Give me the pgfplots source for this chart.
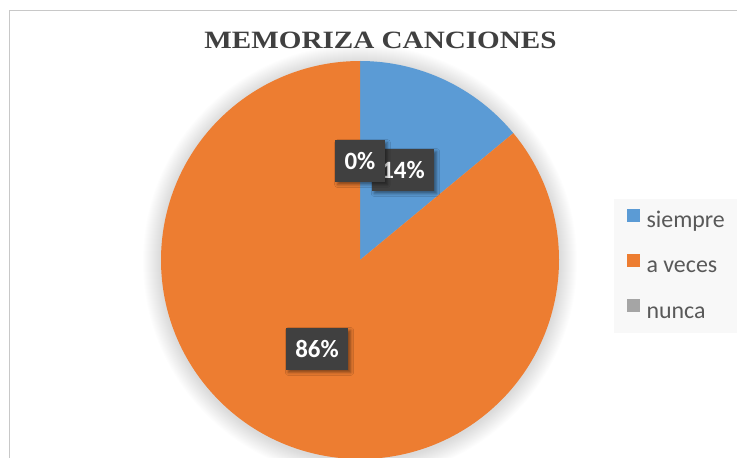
\documentclass[border=0pt]{standalone}
\usepackage{pgfplots}
\pgfplotsset{compat=1.18}
\usepackage{pgfplotstable}
\usepackage{graphicx}
\usepackage{fontspec}
\setmainfont{Carlito}
\newfontfamily\titlefont{Liberation Serif}
\usetikzlibrary{shadows.blur}
\definecolor{cBlue}{RGB}{91,155,213}
\definecolor{cOrange}{RGB}{237,125,49}
\definecolor{cGray}{RGB}{165,165,165}
\definecolor{cLabel}{RGB}{64,64,64}
\definecolor{cText}{RGB}{89,89,89}
\definecolor{cFrame}{RGB}{200,200,200}
\definecolor{cLegBg}{RGB}{248,248,248}
\tikzset{lbl/.style={fill=cLabel, text=white, font=\bfseries\fontsize{25}{30}\selectfont,
    minimum height=42bp, inner xsep=9.5bp, inner ysep=0pt,
    blur shadow={shadow xshift=2.5bp, shadow yshift=-2.5bp, shadow blur radius=3bp, shadow opacity=45}}}

\pgfplotstableread{
label value
siempre 14
a-veces 86
nunca 0
}\piedata
\pgfplotstablegetelem{0}{value}\of\piedata \edef\vA{\pgfplotsretval}
\pgfplotstablegetelem{1}{value}\of\piedata \edef\vB{\pgfplotsretval}
\pgfplotstablegetelem{2}{value}\of\piedata \edef\vC{\pgfplotsretval}

\begin{document}
\begin{tikzpicture}
\useasboundingbox (0bp,0bp) rectangle (737bp,458bp);
\clip (0bp,0bp) rectangle (737bp,458bp);
\fill[white] (0bp,0bp) rectangle (737bp,458bp);
\draw[cFrame, line width=1.2bp] (9.5bp,-20bp) -- (9.5bp,447.5bp) -- (760bp,447.5bp);
\begin{axis}[
  hide axis,
  x=199bp, y=199bp,
  xmin=-1, xmax=1, ymin=-1, ymax=1,
  anchor=center, at={(360bp,198bp)},
  clip=false,
  legend cell align=left,
  legend style={at={(axis cs:1.276,0.31)}, anchor=north west,
    draw=none, fill=cLegBg, inner xsep=13bp, inner ysep=10bp,
    row sep=21bp, text=cText,
    font=\fontsize{24}{28}\selectfont,
    nodes={inner sep=0pt, text height=19bp, text depth=5bp},
    /tikz/every odd column/.append style={column sep=7bp}},
]
\pgfplotsinvokeforeach{1,...,18}{
  \fill[black, opacity=0.006] (axis cs:0,-0.008) circle[radius={199bp+#1bp}];
}
\fill[cBlue] (axis cs:0,0) -- (axis cs:0,1) arc[start angle=90, end angle={90-3.6*\vA}, radius=199bp] -- cycle;
\fill[cOrange] (axis cs:0,0) -- (axis cs:{cos(90-3.6*\vA)},{sin(90-3.6*\vA)}) arc[start angle={90-3.6*\vA}, end angle={90-3.6*(\vA+\vB)}, radius=199bp] -- cycle;
\addlegendimage{legend image code/.code={\fill[cBlue] (0bp,0bp) rectangle (12bp,12bp);}}
\addlegendentry{siempre}
\addlegendimage{legend image code/.code={\fill[cOrange] (0bp,0bp) rectangle (12bp,12bp);}}
\addlegendentry{a veces}
\addlegendimage{legend image code/.code={\fill[cGray] (0bp,0bp) rectangle (12bp,12bp);}}
\addlegendentry{nunca}
\node[lbl] at (axis cs:0.216,0.452) {14\%};
\node[lbl] at (axis cs:0,0.497) {0\%};
\node[lbl] at (axis cs:-0.216,-0.447) {86\%};
\end{axis}
\node[anchor=base, text=cLabel, font=\titlefont\bfseries\fontsize{25}{30}\selectfont, inner sep=0pt] at (380.5bp,409bp) {\scalebox{1.17}[1]{MEMORIZA CANCIONES}};
\end{tikzpicture}
\end{document}
